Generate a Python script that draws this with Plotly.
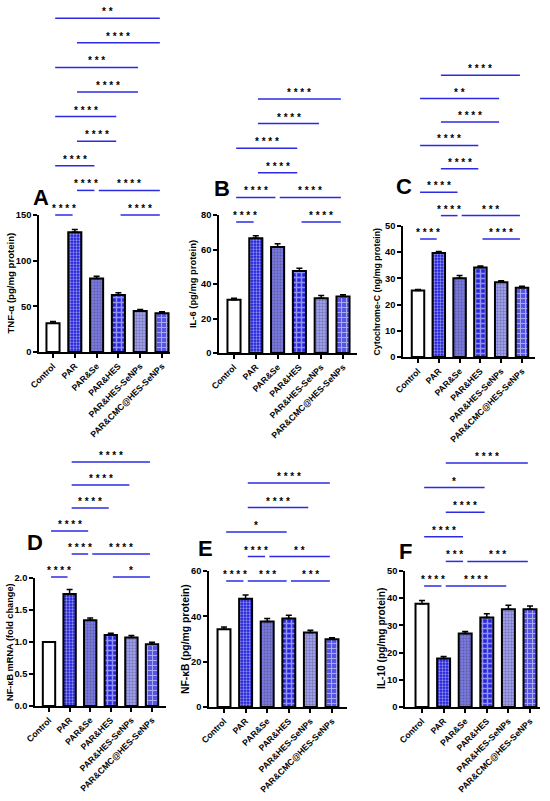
import plotly.graph_objects as go

W, H = 550, 801
FONT = "Arial, Liberation Sans, sans-serif"

groups = ["Control", "PAR", "PAR&Se", "PAR&HES", "PAR&HES-SeNPs", "PAR&CMC@HES-SeNPs"]

# mean and SD for each panel
tnf_mean = [31.5, 131, 80.5, 62.5, 45, 42.5]
tnf_err = [2, 3, 2.5, 2.5, 1.5, 1.5]
il6_mean = [30.8, 66.5, 61.4, 47.6, 31.8, 32.8]
il6_err = [1, 1.5, 2, 1.5, 1.5, 1]
cytc_mean = [25.4, 39.7, 30.1, 34.2, 28.5, 26.4]
cytc_err = [0.4, 0.6, 1.0, 0.5, 0.6, 0.6]
nfkb_mrna_mean = [1.0, 1.75, 1.34, 1.11, 1.07, 0.965]
nfkb_mrna_err = [0.0, 0.07, 0.035, 0.025, 0.03, 0.03]
nfkb_mean = [34.3, 47.8, 37.7, 39, 32.9, 29.9]
nfkb_err = [1.0, 1.6, 1.3, 1.5, 1.0, 0.7]
il10_mean = [38, 17.8, 27, 32.9, 35.9, 35.9]
il10_err = [1.2, 0.8, 0.8, 1.4, 1.5, 1.2]

# significance brackets: (from, to, stars, level)
tnf_sig = [(0, 1, "****", 0), (3, 5, "****", 0), (1, 2, "****", 1), (2, 5, "****", 1),
           (0, 2, "****", 2), (1, 3, "****", 3), (0, 3, "****", 4), (1, 4, "****", 5),
           (0, 4, "***", 6), (1, 5, "****", 7), (0, 5, "**", 8)]
il6_sig = [(0, 1, "****", 0), (3, 5, "****", 0), (0, 2, "****", 1), (2, 5, "****", 1),
           (1, 3, "****", 2), (0, 3, "****", 3), (1, 4, "****", 4), (1, 5, "****", 5)]
cytc_sig = [(0, 1, "****", 0), (3, 5, "****", 0), (1, 2, "****", 1), (2, 5, "***", 1),
            (0, 2, "****", 2), (1, 3, "****", 3), (0, 3, "****", 4), (1, 4, "****", 5),
            (0, 4, "**", 6), (1, 5, "****", 7)]
nfkb_mrna_sig = [(0, 1, "****", 0), (3, 5, "*", 0), (1, 2, "****", 1), (2, 5, "****", 1),
                 (0, 2, "****", 2), (1, 3, "****", 3), (1, 4, "****", 4), (1, 5, "****", 5)]
nfkb_sig = [(0, 1, "****", 0), (1, 3, "***", 0), (3, 5, "***", 0), (1, 2, "****", 1),
            (2, 5, "**", 1), (0, 3, "*", 2), (1, 4, "****", 3), (1, 5, "****", 4)]
il10_sig = [(0, 1, "****", 0), (1, 4, "****", 0), (1, 2, "***", 1), (2, 5, "***", 1),
            (0, 2, "****", 2), (1, 3, "****", 3), (0, 3, "*", 4), (1, 5, "****", 5)]

# bar fills per group
bar_bg = ["#ffffff", "#1c1cd8", "#7878e6", "#2626de", "#9c9cf0", "#5656e2"]
bar_fg = ["#ffffff", "#0c0c96", "#ffffff", "#ffffff", "#ffffff", "#ffffff"]
bar_shape = ["", ".", ".", "+", "+", "+"]
bar_size = [4, 3, 3, 5, 3, 5]
bar_solid = [0.3, 0.45, 0.3, 0.5, 0.3, 0.35]

panels = [
    dict(letter="A", mean=tnf_mean, err=tnf_err, sig=tnf_sig, ymax=150, ticks=[0, 50, 100, 150],
         title="TNF-α (pg/mg protein)", tsize=9.6, box=(39, 170, 215, 352), first=53, step=21.8,
         lpos=(41, 199), tx=10, base=215, bstep=24.6),
    dict(letter="B", mean=il6_mean, err=il6_err, sig=il6_sig, ymax=80, ticks=[0, 20, 40, 60, 80],
         title="IL-6 (pg/mg protein)", tsize=9.4, box=(219, 357, 215, 353), first=234, step=21.8,
         lpos=(222, 189), tx=192, base=222, bstep=24.6),
    dict(letter="C", mean=cytc_mean, err=cytc_err, sig=cytc_sig, ymax=50, ticks=[0, 10, 20, 30, 40, 50],
         title="Cytochrome-C (ng/mg protein)", tsize=8.8, box=(403, 535, 226, 357), first=418, step=20.8,
         lpos=(404, 187), tx=376, base=239, bstep=23.4),
    dict(letter="D", mean=nfkb_mrna_mean, err=nfkb_mrna_err, sig=nfkb_mrna_sig, ymax=2.0,
         ticks=[0, 0.5, 1.0, 1.5, 2.0], fmt=".1f",
         title="NF-κB mRNA (fold change)", tsize=9.2, box=(35, 166, 578, 706), first=49, step=20.6,
         lpos=(35, 543), tx=10, base=577, bstep=23),
    dict(letter="E", mean=nfkb_mean, err=nfkb_err, sig=nfkb_sig, ymax=60, ticks=[0, 20, 40, 60],
         title="NF-κB (pg/mg protein)", tsize=10.4, box=(209, 347, 571, 707), first=224, step=21.6,
         lpos=(205, 549), tx=185, base=581, bstep=24.5),
    dict(letter="F", mean=il10_mean, err=il10_err, sig=il10_sig, ymax=50, ticks=[0, 10, 20, 30, 40, 50],
         title="IL-10 (pg/mg protein)", tsize=10.2, box=(405, 540, 571, 707), first=422, step=21.6,
         lpos=(405, 552), tx=381, base=586, bstep=24.6),
]

fig = go.Figure()
shapes, annotations = [], []

for k, p in enumerate(panels):
    ax = "" if k == 0 else str(k + 1)
    x0, x1, top, bottom = p["box"]
    xr = [-(p["first"] - x0) / p["step"], (x1 - p["first"]) / p["step"]]

    fig.add_trace(go.Bar(
        x=groups, y=p["mean"], xaxis="x" + ax, yaxis="y" + ax, width=0.6,
        showlegend=False,
        marker=dict(color=bar_bg, line=dict(color="black", width=2),
                    pattern=dict(shape=bar_shape, fgcolor=bar_fg, size=bar_size,
                                 solidity=bar_solid)),
        error_y=dict(type="data", array=p["err"], arrayminus=[0] * 6, symmetric=False,
                     color="black", thickness=1.5, width=3),
    ))

    fig.layout["xaxis" + ax] = dict(
        domain=[x0 / W, x1 / W], range=xr, anchor="y" + ax, automargin=False,
        showline=True, linecolor="black", linewidth=1.5,
        ticks="outside", ticklen=4, tickwidth=1.5, tickcolor="black",
        tickangle=-45, tickfont=dict(family=FONT, size=8.7, color="black", weight="bold"),
        showgrid=False, zeroline=False,
    )
    fig.layout["yaxis" + ax] = dict(
        domain=[1 - bottom / H, 1 - top / H], range=[0, p["ymax"]], anchor="x" + ax,
        automargin=False, tickvals=p["ticks"], tickformat=p.get("fmt", ""),
        showline=True, linecolor="black", linewidth=1.5,
        ticks="outside", ticklen=4, tickwidth=1.5, tickcolor="black",
        tickfont=dict(family=FONT, size=9.3, color="black", weight="bold"),
        showgrid=False, zeroline=False,
    )

    for i, j, stars, lev in p["sig"]:
        yl = 1 - (p["base"] - lev * p["bstep"]) / H
        shapes.append(dict(type="line", xref="x" + ax, yref="paper", x0=i + 0.1, x1=j - 0.1,
                           y0=yl, y1=yl, line=dict(color="#2b2be6", width=1.5)))
        annotations.append(dict(xref="x" + ax, yref="paper", x=(i + j) / 2, y=yl,
                                yanchor="bottom", yshift=-1, showarrow=False,
                                text=" ".join(stars),
                                font=dict(family=FONT, size=10, color="black", weight="bold")))

    lx, ly = p["lpos"]
    annotations.append(dict(xref="paper", yref="paper", x=lx / W, y=1 - ly / H, yshift=1,
                            xanchor="center", yanchor="middle", showarrow=False,
                            text=p["letter"],
                            font=dict(family=FONT, size=22, color="black", weight="bold")))
    annotations.append(dict(xref="paper", yref="paper", x=p["tx"] / W,
                            y=1 - (top + bottom) / 2 / H, textangle=-90,
                            xanchor="center", yanchor="middle", showarrow=False,
                            text=p["title"],
                            font=dict(family=FONT, size=p["tsize"], color="black", weight="bold")))

fig.update_layout(
    width=W, height=H, autosize=False,
    margin=dict(l=0, r=0, t=0, b=0),
    paper_bgcolor="white", plot_bgcolor="white",
    shapes=shapes, annotations=annotations,
    bargap=0.4,
)

# the page body has a default 8px margin; drop it so the figure sits at the window corner
fig.write_html("out.html", config={"displayModeBar": False},
               post_script="document.body.style.margin = '0';")
